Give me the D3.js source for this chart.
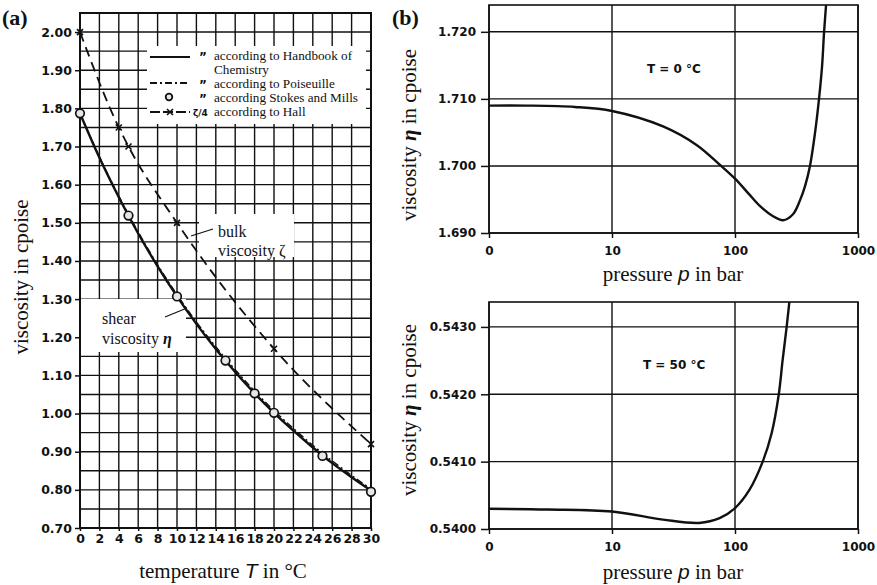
<!DOCTYPE html>
<html>
<head>
<meta charset="utf-8">
<script src="https://cdn.jsdelivr.net/npm/d3@7/dist/d3.min.js"></script>
<style>
  body { margin: 0; background: #fff; }
  svg { display: block; }
  .tick text { font-family: "DejaVu Sans", sans-serif; font-weight: bold; font-size: 12.5px; fill: #111; }
  .serif { font-family: "Liberation Serif", "Times New Roman", serif; fill: #111; }
</style>
</head>
<body>
<div id="chart"></div>
<script>
// ---- panel (a): viscosity of water vs temperature ----
const handbookT   = [0, 2, 4, 6, 8, 10, 12, 14, 16, 18, 20, 22, 24, 26, 28, 30];
const handbookEta = [1.787, 1.671, 1.567, 1.472, 1.386, 1.307, 1.235, 1.169, 1.109, 1.053, 1.002, 0.955, 0.911, 0.870, 0.833, 0.798];
const poiseuilleT   = [0, 2, 4, 6, 8, 10, 12, 14, 16, 18, 20, 22, 24, 26, 28, 30];
const poiseuilleEta = [1.787, 1.673, 1.570, 1.476, 1.390, 1.312, 1.240, 1.175, 1.115, 1.059, 1.008, 0.961, 0.917, 0.876, 0.838, 0.802];
const stokesT   = [0, 5, 10, 15, 18, 20, 25, 30];
const stokesEta = [1.787, 1.519, 1.307, 1.139, 1.053, 1.002, 0.889, 0.795];
const hallT    = [0, 4, 5, 10, 20, 30];
const hallZeta = [2.00, 1.75, 1.70, 1.50, 1.17, 0.92];

const tempTicks = [0, 2, 4, 6, 8, 10, 12, 14, 16, 18, 20, 22, 24, 26, 28, 30];
const viscTicks = [0.70, 0.80, 0.90, 1.00, 1.10, 1.20, 1.30, 1.40, 1.50, 1.60, 1.70, 1.80, 1.90, 2.00];
const viscGrid  = [0.75, 0.80, 0.85, 0.90, 0.95, 1.00, 1.05, 1.10, 1.15, 1.20, 1.25, 1.30, 1.35, 1.40,
                   1.45, 1.50, 1.55, 1.60, 1.65, 1.70, 1.75, 1.80, 1.85, 1.90, 1.95, 2.00];

// ---- panel (b): viscosity vs pressure ("0" sits at p = 1 on the log axis) ----
const p0   = [1, 2, 5, 10, 26, 49, 75, 100, 130, 160, 204, 246, 296, 338, 371, 407, 447, 482, 510, 530, 550, 575];
const eta0 = [1.7090, 1.7090, 1.7088, 1.7082, 1.7059, 1.7031, 1.7002, 1.6981, 1.6958, 1.6940, 1.6925,
              1.6919, 1.6928, 1.6949, 1.6970, 1.7000, 1.7049, 1.7100, 1.7148, 1.7200, 1.7240, 1.7290];
const p50   = [1, 3, 10, 26, 51, 75, 100, 131, 168, 199, 227, 244, 263, 285];
const eta50 = [0.54030, 0.54029, 0.54026, 0.54014, 0.54009, 0.54016, 0.54031, 0.54058, 0.54100,
               0.54143, 0.54200, 0.54251, 0.54300, 0.54360];

const pressureTicks  = [1, 10, 100, 1000];
const pressureLabels = ["0", "10", "100", "1000"];
const eta0Ticks  = [1.690, 1.700, 1.710, 1.720];
const eta50Ticks = [0.5400, 0.5410, 0.5420, 0.5430];

const W = 877, H = 585;
const ink = "#111";

const svg = d3.select("#chart").append("svg")
    .attr("width", W).attr("height", H)
    .attr("viewBox", `0 0 ${W} ${H}`);

const defs = svg.append("defs");

// ================= panel (a) =================
const xA = d3.scaleLinear([0, 30], [80, 371]);
const yA = d3.scaleLinear([0.70, 2.05], [528, 13]);

const gA = svg.append("g");

// grid
gA.append("g").selectAll("line").data(tempTicks).join("line")
    .attr("x1", d => xA(d)).attr("x2", d => xA(d))
    .attr("y1", yA.range()[0]).attr("y2", yA.range()[1])
    .attr("stroke", ink).attr("stroke-width", 1.4);
gA.append("g").selectAll("line").data(viscGrid).join("line")
    .attr("x1", xA.range()[0]).attr("x2", xA.range()[1])
    .attr("y1", d => yA(d)).attr("y2", d => yA(d))
    .attr("stroke", ink).attr("stroke-width", 1.4);

// white boxes over the grid (legend + labels)
gA.append("rect").attr("x", 147).attr("y", 46).attr("width", 219).attr("height", 78).attr("fill", "#fff");
gA.append("rect").attr("x", 199).attr("y", 214).attr("width", 95).attr("height", 43).attr("fill", "#fff");
gA.append("rect").attr("x", 81).attr("y", 299).attr("width", 105).attr("height", 53).attr("fill", "#fff");

// frame
gA.append("rect")
    .attr("x", xA.range()[0]).attr("y", yA.range()[1])
    .attr("width", xA.range()[1] - xA.range()[0])
    .attr("height", yA.range()[0] - yA.range()[1])
    .attr("fill", "none").attr("stroke", ink).attr("stroke-width", 2);

// axes
const axA_y = gA.append("g").attr("transform", `translate(${xA.range()[0]},0)`)
    .call(d3.axisLeft(yA).tickValues(viscTicks).tickFormat(d3.format(".2f")).tickSize(5).tickPadding(3));
const axA_x = gA.append("g").attr("transform", `translate(0,${yA.range()[0]})`)
    .call(d3.axisBottom(xA).tickValues(tempTicks).tickFormat(d3.format("d")).tickSize(3).tickPadding(3));
[axA_y, axA_x].forEach(a => {
  a.select(".domain").remove();
  a.selectAll(".tick line").attr("stroke", ink).attr("stroke-width", 1.5);
});

// curves
const lineA = d3.line().curve(d3.curveMonotoneX);
const toPts = (xs, ys) => xs.map((x, i) => [xA(x), yA(ys[i])]);

gA.append("path").attr("d", lineA(toPts(handbookT, handbookEta)))
    .attr("fill", "none").attr("stroke", ink).attr("stroke-width", 2.4);
gA.append("path").attr("d", lineA(toPts(poiseuilleT, poiseuilleEta)))
    .attr("fill", "none").attr("stroke", ink).attr("stroke-width", 1.4)
    .attr("stroke-dasharray", "7 3 2 3");
gA.append("path").attr("d", lineA(toPts(hallT, hallZeta)))
    .attr("fill", "none").attr("stroke", ink).attr("stroke-width", 1.8)
    .attr("stroke-dasharray", "10 6");

// Hall markers (x)
gA.append("g").selectAll("path").data(hallT.map((t, i) => [xA(t), yA(hallZeta[i])])).join("path")
    .attr("d", d => `M${d[0]-3},${d[1]-3}L${d[0]+3},${d[1]+3}M${d[0]+3},${d[1]-3}L${d[0]-3},${d[1]+3}`)
    .attr("stroke", ink).attr("stroke-width", 1.6);

// Stokes & Mills circles
gA.append("g").selectAll("circle").data(stokesT.map((t, i) => [xA(t), yA(stokesEta[i])])).join("circle")
    .attr("cx", d => d[0]).attr("cy", d => d[1]).attr("r", 4.3)
    .attr("fill", "#e6e6e6").attr("stroke", ink).attr("stroke-width", 1.7);

// legend
const leg = gA.append("g");
const legText = [
  ["according to Handbook of", 60],
  ["Chemistry", 74],
  ["according to Poiseuille", 88],
  ["according Stokes and Mills", 102],
  ["according to Hall", 116]
];
leg.selectAll("text.lt").data(legText).join("text")
    .attr("class", "serif").attr("x", 214).attr("y", d => d[1])
    .attr("font-size", 13.2).text(d => d[0]);
leg.append("line").attr("x1", 150).attr("x2", 190).attr("y1", 57).attr("y2", 57)
    .attr("stroke", ink).attr("stroke-width", 2.2);
leg.append("line").attr("x1", 150).attr("x2", 190).attr("y1", 83).attr("y2", 83)
    .attr("stroke", ink).attr("stroke-width", 1.8).attr("stroke-dasharray", "7 3 2 3");
leg.append("circle").attr("cx", 169).attr("cy", 97).attr("r", 3.3)
    .attr("fill", "#e6e6e6").attr("stroke", ink).attr("stroke-width", 1.8);
leg.append("line").attr("x1", 150).attr("x2", 190).attr("y1", 112).attr("y2", 112)
    .attr("stroke", ink).attr("stroke-width", 1.8).attr("stroke-dasharray", "10 3 0 0");
leg.append("path").attr("d", "M167,109L173,115M173,109L167,115").attr("stroke", ink).attr("stroke-width", 1.6);
leg.selectAll("text.ditto").data([60, 88, 102]).join("text")
    .attr("x", 199).attr("y", d => d + 1).attr("font-family", "DejaVu Sans").attr("font-weight", "bold")
    .attr("font-size", 12).attr("fill", ink).text("\u201D");
leg.append("text").attr("x", 193).attr("y", 116)
    .attr("font-family", "DejaVu Sans").attr("font-weight", "bold").attr("font-size", 9).attr("fill", ink)
    .text("ζ/4");

// annotations
const ann = gA.append("g");
ann.append("text").attr("class", "serif").attr("font-size", 16).attr("x", 218).attr("y", 237).text("bulk");
ann.append("text").attr("class", "serif").attr("font-size", 16).attr("x", 218).attr("y", 256).text("viscosity ζ");
ann.append("line").attr("x1", 213).attr("y1", 229).attr("x2", 191).attr("y2", 236)
    .attr("stroke", ink).attr("stroke-width", 1.2);
ann.append("text").attr("class", "serif").attr("font-size", 16).attr("x", 102).attr("y", 324).text("shear");
const shear2 = ann.append("text").attr("class", "serif").attr("font-size", 16).attr("x", 102).attr("y", 344);
shear2.append("tspan").text("viscosity ");
shear2.append("tspan").attr("font-style", "italic").attr("font-weight", "bold").text("η");
ann.append("line").attr("x1", 165).attr("y1", 317).attr("x2", 187).attr("y2", 308)
    .attr("stroke", ink).attr("stroke-width", 1.2);

// axis titles (a)
const xtA = gA.append("text").attr("class", "serif").attr("font-size", 21)
    .attr("text-anchor", "middle").attr("x", 223).attr("y", 578);
xtA.append("tspan").text("temperature ");
xtA.append("tspan").attr("font-family", "Liberation Sans").attr("font-style", "italic").text("T");
xtA.append("tspan").text(" in °C");
gA.append("text").attr("class", "serif").attr("font-size", 21).attr("text-anchor", "middle")
    .attr("transform", "translate(28,277) rotate(-90)").text("viscosity in cpoise");

svg.append("text").attr("class", "serif").attr("font-size", 22).attr("font-weight", "bold")
    .attr("x", 2).attr("y", 25).text("(a)");
svg.append("text").attr("class", "serif").attr("font-size", 22).attr("font-weight", "bold")
    .attr("x", 392).attr("y", 25).text("(b)");

// ================= panel (b) =================
const xB = d3.scaleLog([1, 1000], [489, 858]);

function pressurePanel(yScale, ticks, fmt, ps, etas, label, labelXY, ytitleY, xtitleY, id) {
  const g = svg.append("g");
  const [yb, yt] = yScale.range();
  const [xl, xr] = xB.range();

  defs.append("clipPath").attr("id", id).append("rect")
      .attr("x", xl).attr("y", yt).attr("width", xr - xl).attr("height", yb - yt);

  g.append("g").selectAll("line").data(pressureTicks).join("line")
      .attr("x1", d => xB(d)).attr("x2", d => xB(d)).attr("y1", yb).attr("y2", yt)
      .attr("stroke", ink).attr("stroke-width", 1.4);
  g.append("g").selectAll("line").data(ticks).join("line")
      .attr("x1", xl).attr("x2", xr).attr("y1", d => yScale(d)).attr("y2", d => yScale(d))
      .attr("stroke", ink).attr("stroke-width", 1.4);
  g.append("rect").attr("x", xl).attr("y", yt).attr("width", xr - xl).attr("height", yb - yt)
      .attr("fill", "none").attr("stroke", ink).attr("stroke-width", 1.6);

  const ay = g.append("g").attr("transform", `translate(${xl},0)`)
      .call(d3.axisLeft(yScale).tickValues(ticks).tickFormat(fmt).tickSize(8).tickPadding(5));
  const ax = g.append("g").attr("transform", `translate(0,${yb})`)
      .call(d3.axisBottom(xB).tickValues(pressureTicks)
        .tickFormat((d, i) => pressureLabels[i]).tickSize(5).tickPadding(8));
  [ay, ax].forEach(a => {
    a.select(".domain").remove();
    a.selectAll(".tick line").attr("stroke", ink).attr("stroke-width", 1.5);
  });
  ay.selectAll(".tick text").style("font-size", "12px");
  ax.selectAll(".tick text").style("font-size", "12px");

  g.append("path")
      .attr("clip-path", `url(#${id})`)
      .attr("d", d3.line().curve(d3.curveCatmullRom.alpha(0.5))(ps.map((p, i) => [xB(p), yScale(etas[i])])))
      .attr("fill", "none").attr("stroke", ink).attr("stroke-width", 2.4);

  g.append("text").attr("x", labelXY[0]).attr("y", labelXY[1])
      .attr("font-family", "DejaVu Sans").attr("font-weight", "bold").attr("font-size", 12)
      .attr("fill", ink).text(label);

  const xt = g.append("text").attr("class", "serif").attr("font-size", 21)
      .attr("text-anchor", "middle").attr("x", 673).attr("y", xtitleY);
  xt.append("tspan").text("pressure ");
  xt.append("tspan").attr("font-family", "Liberation Sans").attr("font-style", "italic").text("p");
  xt.append("tspan").text(" in bar");

  const yt2 = g.append("text").attr("class", "serif").attr("font-size", 21).attr("text-anchor", "middle")
      .attr("transform", `translate(416,${ytitleY}) rotate(-90)`);
  yt2.append("tspan").text("viscosity ");
  yt2.append("tspan").attr("font-style", "italic").attr("font-weight", "bold").text("η");
  yt2.append("tspan").text(" in cpoise");
}

pressurePanel(d3.scaleLinear([1.690, 1.724], [233, 5]), eta0Ticks, d3.format(".3f"),
  p0, eta0, "T = 0 °C", [647, 73], 135, 281, "clipTop");
pressurePanel(d3.scaleLinear([0.5400, 0.54337], [529, 302]), eta50Ticks, d3.format(".4f"),
  p50, eta50, "T = 50 °C", [643, 369], 410, 579, "clipBottom");
</script>
</body>
</html>
